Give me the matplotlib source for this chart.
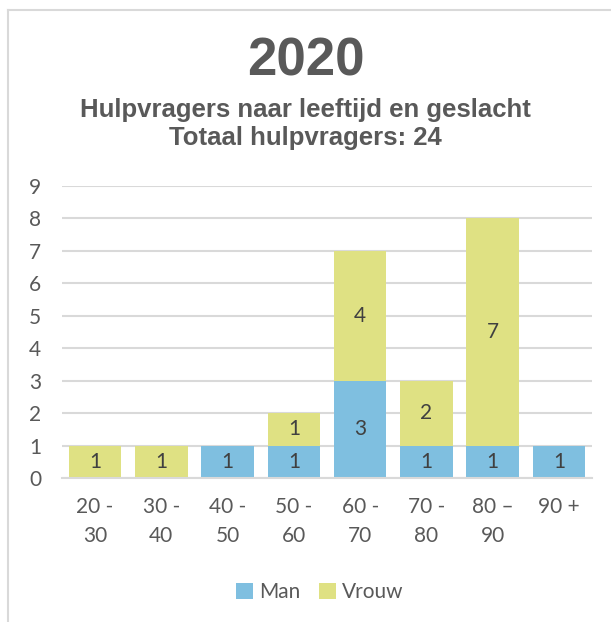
import numpy as np
from matplotlib import pyplot as plt
from matplotlib.lines import Line2D

# data
categories = ['20 -\n30', '30 -\n40', '40 -\n50', '50 -\n60',
              '60 -\n70', '70 -\n80', '80 \u2013\n90', '90 +']
man = [0, 0, 1, 1, 3, 1, 1, 1]
vrouw = [1, 1, 0, 1, 4, 2, 7, 0]

MAN_COLOR = '#7fbfe0'
VROUW_COLOR = '#dfe183'
TEXT_COLOR = '#595959'
LABEL_COLOR = '#404040'
GRID_COLOR = '#d9d9d9'
BODY_FONT = ['Lato', 'DejaVu Sans']
TITLE_FONT = ['Liberation Sans', 'DejaVu Sans']

W, H = 611, 622
fig = plt.figure(figsize=(W / 100, H / 100), dpi=100)
ax = fig.add_axes([62 / W, 1 - 478 / H, 530 / W, 292 / H])

x = np.arange(len(categories))
man_bars = ax.bar(x, man, width=0.79, color=MAN_COLOR, label='Man', zorder=2)
vrouw_bars = ax.bar(x, vrouw, width=0.79, bottom=man, color=VROUW_COLOR,
                    label='Vrouw', zorder=2)

# data labels, only for non-zero segments
for bars, vals in ((man_bars, man), (vrouw_bars, vrouw)):
    for rect, v in zip(bars, vals):
        if v == 0:
            continue
        ax.text(rect.get_x() + rect.get_width() / 2,
                rect.get_y() + rect.get_height() / 2, str(v),
                ha='center', va='center', fontsize=15,
                color=LABEL_COLOR, family=BODY_FONT, zorder=3)

ax.set_xlim(-0.5, len(categories) - 0.5)
ax.set_ylim(0, 9)
ax.set_yticks(range(10))
ax.set_xticks(x)
ax.set_xticklabels(categories, linespacing=1.55)
ax.yaxis.grid(True, color=GRID_COLOR, linewidth=1.5, zorder=0)
ax.set_axisbelow(True)
for side in ('top', 'right', 'left'):
    ax.spines[side].set_visible(False)
ax.spines['bottom'].set_color(GRID_COLOR)
ax.spines['bottom'].set_linewidth(1.5)
ax.tick_params(axis='both', length=0, labelsize=15, colors=TEXT_COLOR)
ax.tick_params(axis='y', pad=15)
ax.tick_params(axis='x', pad=14)
for lbl in ax.get_xticklabels() + ax.get_yticklabels():
    lbl.set_family(BODY_FONT)

# titles
fig.text(0.5, 1 - 62 / H, '2020', ha='center', va='center', fontsize=38,
         fontweight='bold', color=TEXT_COLOR, family=TITLE_FONT)
fig.text(0.5, 1 - 110 / H, 'Hulpvragers naar leeftijd en geslacht',
         ha='center', va='center', fontsize=18.5, fontweight='bold',
         color=TEXT_COLOR, family=TITLE_FONT)
fig.text(0.5, 1 - 138 / H, 'Totaal hulpvragers: 24',
         ha='center', va='center', fontsize=18.5, fontweight='bold',
         color=TEXT_COLOR, family=TITLE_FONT)

# legend
leg = fig.legend(loc='center', bbox_to_anchor=(320 / W, 1 - 592 / H), ncol=2,
                 frameon=False, handlelength=0.8, handleheight=0.8,
                 handletextpad=0.3, columnspacing=0.9,
                 prop={'family': BODY_FONT, 'size': 15})
for t in leg.get_texts():
    t.set_color(TEXT_COLOR)

# chart frame (partly cropped in the reference)
fig.add_artist(Line2D([8 / W, 1], [1 - 10 / H, 1 - 10 / H],
                      color=GRID_COLOR, linewidth=1.5))
fig.add_artist(Line2D([8 / W, 8 / W], [0, 1 - 10 / H],
                      color=GRID_COLOR, linewidth=1.5))

fig.savefig('out.png', dpi=100)
